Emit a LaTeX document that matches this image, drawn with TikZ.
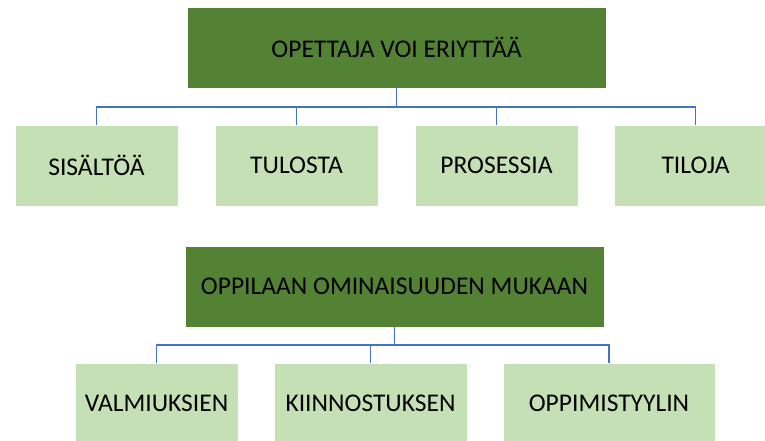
\documentclass[tikz,border=0pt]{standalone}
\usepackage{fontspec}
\setmainfont{Carlito}
\definecolor{darkg}{HTML}{548235}
\definecolor{lightg}{HTML}{C5E0B4}
\definecolor{lineblue}{HTML}{4472C4}
\begin{document}
\begin{tikzpicture}[x=1pt,y=-1pt,
  boxtext/.style={font=\fontsize{25.5}{29}\selectfont, text=black},
  darkbox/.style={fill=darkg, draw=white, line width=0.6pt},
  lightbox/.style={fill=lightg, draw=white, line width=0.6pt},
  conn/.style={draw=lineblue, line width=1.5pt}]
\useasboundingbox (0,0) rectangle (765,441);
\begin{scope}
\clip (0,0) rectangle (765,441);
% top level 1
\path[darkbox] (187,7) rectangle (606,88);
\node[boxtext] (t1) at (396.5,47.5) {OPETTAJA VOI ERIYTTÄÄ};
\coordinate (t1b) at (396.5,88);
\path[lightbox] (15,125) rectangle (178,206);
\path[lightbox] (215,125) rectangle (378,206);
\path[lightbox] (415,125) rectangle (578,206);
\path[lightbox] (614,125) rectangle (777,206);
\node[boxtext] (a1) at (96.5,165.5) {SISÄLTÖÄ};
\node[boxtext] (a2) at (296.5,165.5) {TULOSTA};
\node[boxtext] (a3) at (496.5,165.5) {PROSESSIA};
\node[boxtext] (a4) at (695.5,165.5) {TILOJA};
\coordinate (a1t) at (96.5,125);
\coordinate (a2t) at (296.5,125);
\coordinate (a3t) at (496.5,125);
\coordinate (a4t) at (695.5,125);
\coordinate (h1) at (396.5,107);
\draw[conn] (t1b) -- (h1);
\draw[conn] (a1t) |- (h1);
\draw[conn] (a2t) |- (h1);
\draw[conn] (a3t) |- (h1);
\draw[conn] (a4t) |- (h1);
% top level 2
\path[darkbox] (185,246) rectangle (604,327);
\node[boxtext] (t2) at (394.5,286.5) {OPPILAAN OMINAISUUDEN MUKAAN};
\coordinate (t2b) at (394.5,327);
\path[lightbox] (75,363) rectangle (238,445);
\path[lightbox] (274,363) rectangle (467,445);
\path[lightbox] (503,363) rectangle (715,445);
\node[boxtext] (b1) at (156.5,403.5) {VALMIUKSIEN};
\node[boxtext] (b2) at (370.5,403.5) {KIINNOSTUKSEN};
\node[boxtext] (b3) at (609,403.5) {OPPIMISTYYLIN};
\coordinate (b1t) at (156.5,363);
\coordinate (b2t) at (370.5,363);
\coordinate (b3t) at (609,363);
\coordinate (h2) at (394.5,345);
\draw[conn] (t2b) -- (h2);
\draw[conn] (b1t) |- (h2);
\draw[conn] (b2t) |- (h2);
\draw[conn] (b3t) |- (h2);
\end{scope}
\end{tikzpicture}
\end{document}
